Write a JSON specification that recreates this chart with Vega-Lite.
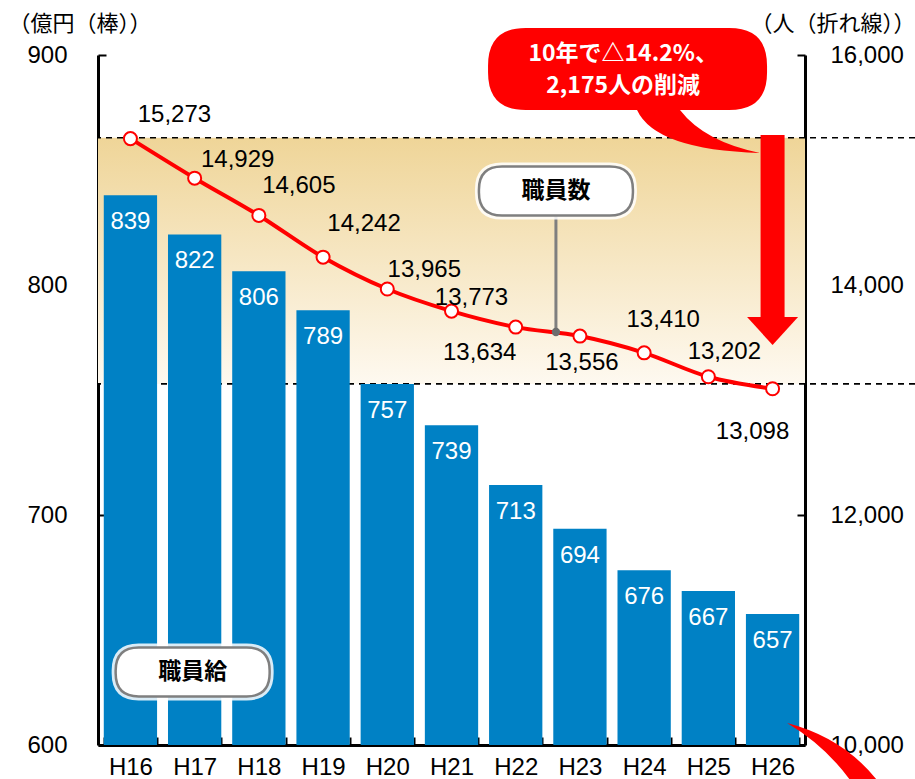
{
  "$schema": "https://vega.github.io/schema/vega-lite/v6.json",
  "width": 707,
  "height": 690,
  "autosize": {"type": "none"},
  "padding": {"left": 98, "top": 55, "right": 110, "bottom": 34},
  "background": "white",
  "config": {"view": {"stroke": null}, "axis": {"grid": false}, "font": "Liberation Sans"},
  "data": {"values": [
    {"year": "H16", "pay": 839, "staff": 15273},
    {"year": "H17", "pay": 822, "staff": 14929},
    {"year": "H18", "pay": 806, "staff": 14605},
    {"year": "H19", "pay": 789, "staff": 14242},
    {"year": "H20", "pay": 757, "staff": 13965},
    {"year": "H21", "pay": 739, "staff": 13773},
    {"year": "H22", "pay": 713, "staff": 13634},
    {"year": "H23", "pay": 694, "staff": 13556},
    {"year": "H24", "pay": 676, "staff": 13410},
    {"year": "H25", "pay": 667, "staff": 13202},
    {"year": "H26", "pay": 657, "staff": 13098}
  ]},
  "layer": [
    {
      "data": {"values": [{"lo": 757, "hi": 864}]},
      "layer": [
        {
          "mark": {"type": "rect", "fill": {"gradient": "linear", "x1": 0, "y1": 0, "x2": 0, "y2": 1, "stops": [{"offset": 0, "color": "#EFD598"}, {"offset": 1, "color": "#FEF9F0"}]}},
          "encoding": {
            "y": {"field": "hi", "type": "quantitative", "scale": {"domain": [600, 900], "nice": false, "zero": false}, "axis": null},
            "y2": {"field": "lo"}
          }
        },
        {
          "mark": {"type": "rule", "color": "black", "strokeWidth": 1.6, "strokeDash": [6, 5], "xOffset": 110, "x2Offset": -98},
          "encoding": {"y": {"field": "hi", "type": "quantitative", "scale": {"domain": [600, 900], "nice": false, "zero": false}, "axis": null}}
        },
        {
          "mark": {"type": "rule", "color": "black", "strokeWidth": 1.6, "strokeDash": [6, 5], "xOffset": 110, "x2Offset": -98},
          "encoding": {"y": {"field": "lo", "type": "quantitative", "scale": {"domain": [600, 900], "nice": false, "zero": false}, "axis": null}}
        }
      ]
    },
    {
      "encoding": {
        "x": {"field": "year", "type": "nominal", "sort": null,
          "scale": {"domain": ["H16","H17","H18","H19","H20","H21","H22","H23","H24","H25","H26"], "paddingInner": 0.17, "paddingOuter": 0.09},
          "axis": {"title": null, "labelAngle": 0, "domainColor": "black", "domainWidth": 3, "tickColor": "black", "tickWidth": 2, "tickSize": -8, "tickBand": "extent", "labelFontSize": 24, "labelColor": "black", "labelPadding": 18, "labelFont": "Liberation Sans"}},
        "y": {"field": "pay", "type": "quantitative", "scale": {"domain": [600, 900], "nice": false, "zero": false},
          "axis": {"orient": "left", "values": [600, 700, 800, 900], "title": "（億円（棒））", "titleAngle": 0, "titleX": -90, "titleY": -32, "titleAlign": "left", "titleBaseline": "middle", "titleFont": "Noto Sans CJK JP", "titleFontSize": 22, "titleFontWeight": "normal", "titleColor": "black", "domainColor": "black", "domainWidth": 3, "tickColor": "black", "tickWidth": 2, "tickSize": -8, "labelFontSize": 24, "labelColor": "black", "labelPadding": 39, "labelFont": "Liberation Sans"}}
      },
      "layer": [
        {"mark": {"type": "bar", "color": "#0081C5"}, "encoding": {"y2": {"datum": 600}}},
        {"mark": {"type": "text", "color": "white", "fontSize": 24, "baseline": "middle", "dy": 27, "font": "Liberation Sans"},
         "encoding": {"text": {"field": "pay", "type": "quantitative"}}}
      ]
    },
    {
      "encoding": {
        "x": {"field": "year", "type": "nominal", "sort": null,
          "scale": {"domain": ["H16","H17","H18","H19","H20","H21","H22","H23","H24","H25","H26"], "paddingInner": 0.17, "paddingOuter": 0.09}},
        "y": {"field": "staff", "type": "quantitative", "scale": {"domain": [10000, 16000], "nice": false, "zero": false},
          "axis": {"orient": "right", "values": [10000, 12000, 14000, 16000], "format": ",d", "title": "（人（折れ線））", "titleAngle": 0, "titleX": 110, "titleY": -32, "titleAlign": "right", "titleBaseline": "middle", "titleFont": "Noto Sans CJK JP", "titleFontSize": 22, "titleFontWeight": "normal", "titleColor": "black", "domainColor": "black", "domainWidth": 3, "tickColor": "black", "tickWidth": 2, "tickSize": -8, "labelFontSize": 24, "labelColor": "black", "labelPadding": 33, "labelFont": "Liberation Sans"}}
      },
      "layer": [
        {"mark": {"type": "line", "color": "#FF0000", "strokeWidth": 4, "interpolate": "monotone"}},
        {"mark": {"type": "point", "shape": "circle", "filled": true, "fill": "white", "stroke": "#FF0000", "strokeWidth": 2, "size": 170, "opacity": 1}},
        {"mark": {"type": "text", "fontSize": 24, "color": "black", "align": "center", "baseline": "middle", "font": "Liberation Sans",
            "dx": {"expr": "({'H16':44,'H17':43,'H18':40,'H19':41,'H20':37,'H21':20,'H22':-36,'H23':2,'H24':19,'H25':16,'H26':-20})[datum.year]"},
            "dy": {"expr": "({'H16':-24,'H17':-18,'H18':-29,'H19':-33,'H20':-19,'H21':-13,'H22':26,'H23':27,'H24':-33,'H25':-25,'H26':43})[datum.year]"}},
         "encoding": {"text": {"field": "staff", "type": "quantitative", "format": ",d"}}},
        {"data": {"values": [{"yr": "H23", "a": 14626, "b": 13591}]},
         "layer": [
           {"mark": {"type": "rule", "color": "#7F7F7F", "strokeWidth": 3, "xOffset": -24},
            "encoding": {"x": {"field": "yr", "type": "nominal"}, "y": {"field": "a", "type": "quantitative"}, "y2": {"field": "b"}}},
           {"mark": {"type": "point", "shape": "circle", "filled": true, "color": "#6D6D6D", "size": 70, "opacity": 1, "xOffset": -24},
            "encoding": {"x": {"field": "yr", "type": "nominal"}, "y": {"field": "b", "type": "quantitative"}}}
         ]},
        {"data": {"values": [{"t": "職員数", "yr": "H23", "v": 14817, "o": -24}, {"t": "職員給", "yr": "H17", "v": 10635, "o": -2}]},
         "layer": [
           {"mark": {"type": "point", "shape": "M-0.7,-0.318 L0.7,-0.318 Q1,-0.318 1,-0.018 L1,0.018 Q1,0.318 0.7,0.318 L-0.7,0.318 Q-1,0.318 -1,0.018 L-1,-0.018 Q-1,-0.318 -0.7,-0.318 Z", "size": 23716, "filled": false, "fill": "white", "fillOpacity": 1, "stroke": "white", "strokeWidth": 8, "opacity": 1, "strokeOpacity": 0.85, "xOffset": {"expr": "datum.o"}},
            "encoding": {"x": {"field": "yr", "type": "nominal"}, "y": {"field": "v", "type": "quantitative"}}},
           {"mark": {"type": "point", "shape": "M-0.7,-0.318 L0.7,-0.318 Q1,-0.318 1,-0.018 L1,0.018 Q1,0.318 0.7,0.318 L-0.7,0.318 Q-1,0.318 -1,0.018 L-1,-0.018 Q-1,-0.318 -0.7,-0.318 Z", "size": 23716, "filled": false, "fill": "white", "fillOpacity": 1, "stroke": "#7F7F7F", "strokeWidth": 2.5, "opacity": 1, "xOffset": {"expr": "datum.o"}},
            "encoding": {"x": {"field": "yr", "type": "nominal"}, "y": {"field": "v", "type": "quantitative"}}},
           {"mark": {"type": "text", "fontSize": 23, "fontWeight": "bold", "color": "black", "font": "Noto Sans CJK JP", "align": "center", "baseline": "middle", "dx": {"expr": "datum.o"}},
            "encoding": {"x": {"field": "yr", "type": "nominal"}, "y": {"field": "v", "type": "quantitative"}, "text": {"field": "t"}}}
         ]},
        {"data": {"values": [{"yr": "H26", "a": 15304, "b": 13722, "head": 13600, "base": 10000}]},
         "layer": [
           {"mark": {"type": "rule", "color": "#FF0000", "strokeWidth": 24},
            "encoding": {"x": {"field": "yr", "type": "nominal"}, "y": {"field": "a", "type": "quantitative"}, "y2": {"field": "b"}}},
           {"mark": {"type": "point", "shape": "M-1,-0.55 L1,-0.55 L0,0.55 Z", "size": 2601, "filled": true, "color": "#FF0000", "opacity": 1},
            "encoding": {"x": {"field": "yr", "type": "nominal"}, "y": {"field": "head", "type": "quantitative"}}},
           {"mark": {"type": "point", "shape": "M0.29,-0.44 Q1.6,-0.1 2.3,1.0 L1.75,1.0 Q1.2,0.1 0.29,-0.44 Z", "size": 10000, "filled": true, "color": "#FF0000", "opacity": 1},
            "encoding": {"x": {"field": "yr", "type": "nominal"}, "y": {"field": "base", "type": "quantitative"}}}
         ]},
        {"data": {"values": [{"yr": "H24", "v": 15878, "tv": 16009, "msg": ["10年で△14.2%、", "2,175人の削減"]}]},
         "layer": [
           {"mark": {"type": "point", "shape": "M-0.73,-0.294 L0.73,-0.294 Q1,-0.294 1,-0.024 L1,0.024 Q1,0.294 0.73,0.294 L0.376,0.294 Q0.55,0.52 0.95,0.602 Q0.2,0.58 0.068,0.294 L-0.73,0.294 Q-1,0.294 -1,0.024 L-1,-0.024 Q-1,-0.294 -0.73,-0.294 Z", "size": 77841, "filled": true, "color": "#FF0000", "opacity": 1, "xOffset": -16.6},
            "encoding": {"x": {"field": "yr", "type": "nominal"}, "y": {"field": "v", "type": "quantitative"}}},
           {"mark": {"type": "text", "fontSize": 23, "fontWeight": "bold", "color": "white", "font": "Noto Sans CJK JP", "align": "center", "baseline": "middle", "lineHeight": 32, "dx": -21},
            "encoding": {"x": {"field": "yr", "type": "nominal"}, "y": {"field": "tv", "type": "quantitative"}, "text": {"field": "msg"}}}
         ]}
      ]
    }
  ],
  "resolve": {"scale": {"y": "independent"}}
}
